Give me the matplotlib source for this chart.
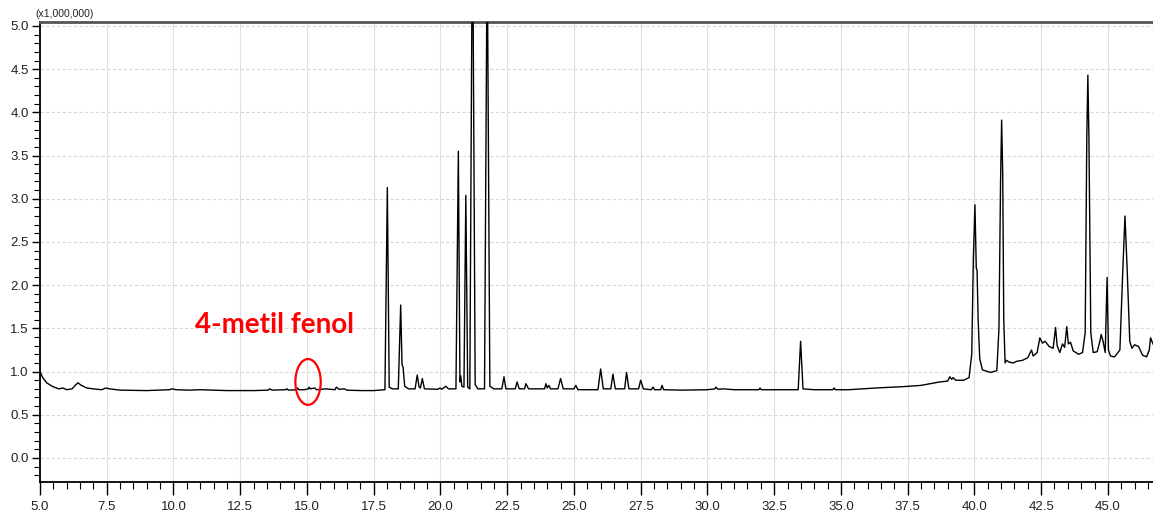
import matplotlib
matplotlib.use("Agg")
import matplotlib.pyplot as plt
from matplotlib.patches import Ellipse
from matplotlib.ticker import MultipleLocator, FormatStrFormatter

# retention time (min) and intensity (x1,000,000)
rt = [
    5.00, 5.10, 5.25, 5.45, 5.70, 5.86, 6.00, 6.20, 6.35, 6.42, 6.55, 6.75,
    7.00, 7.30, 7.47, 7.60, 8.00, 9.00, 9.85, 9.95, 10.10, 10.60, 11.00, 11.50,
    12.00, 12.50, 13.00, 13.55, 13.60, 13.70, 14.20, 14.25, 14.30, 14.60, 14.65,
    14.70, 14.90, 15.05, 15.08, 15.12, 15.30, 15.35, 15.70, 16.05, 16.10, 16.20,
    16.40, 16.50, 17.00, 17.50, 17.92, 18.01, 18.08, 18.20, 18.42, 18.51, 18.56,
    18.60, 18.66, 18.80, 19.05, 19.13, 19.20, 19.25, 19.32, 19.40, 19.90, 19.98,
    20.05, 20.20, 20.30, 20.58, 20.67, 20.73, 20.76, 20.80, 20.88, 20.95, 21.02,
    21.10, 21.20, 21.30, 21.40, 21.65, 21.75, 21.85, 22.00, 22.30, 22.38, 22.45,
    22.80, 22.87, 22.95, 23.15, 23.20, 23.30, 23.90, 23.95, 24.00, 24.06, 24.12,
    24.40, 24.50, 24.60, 25.00, 25.07, 25.15, 25.90, 26.00, 26.10, 26.38, 26.46,
    26.55, 26.90, 26.97, 27.06, 27.42, 27.50, 27.60, 27.90, 27.96, 28.02, 28.25,
    28.30, 28.36, 29.00, 30.00, 30.28, 30.32, 30.40, 30.60, 31.00, 31.93, 31.97,
    32.02, 33.00, 33.40, 33.49, 33.58, 34.00, 34.70, 34.74, 34.80, 35.30, 36.30,
    37.30, 38.00, 38.70, 39.00, 39.08, 39.15, 39.20, 39.30, 39.60, 39.80, 39.90,
    39.96, 40.02, 40.07, 40.10, 40.14, 40.20, 40.30, 40.60, 40.84, 40.92, 40.98,
    41.02, 41.06, 41.10, 41.15, 41.20, 41.30, 41.45, 41.60, 41.80, 42.00, 42.14,
    42.20, 42.35, 42.45, 42.55, 42.65, 42.80, 42.95, 43.04, 43.10, 43.20, 43.30,
    43.38, 43.46, 43.52, 43.60, 43.70, 43.90, 44.05, 44.15, 44.21, 44.25, 44.29,
    44.36, 44.45, 44.60, 44.70, 44.75, 44.82, 44.90, 44.97, 45.02, 45.10, 45.25,
    45.45, 45.55, 45.64, 45.72, 45.82, 45.90, 46.00, 46.15, 46.30, 46.45, 46.55,
    46.60, 46.65, 46.75,
]
intensity = [
    1.00, 0.93, 0.87, 0.83, 0.80, 0.81, 0.79, 0.80, 0.85, 0.87, 0.84, 0.81,
    0.80, 0.79, 0.81, 0.80, 0.785, 0.78, 0.79, 0.80, 0.79, 0.785, 0.79, 0.785,
    0.78, 0.78, 0.78, 0.785, 0.80, 0.785, 0.79, 0.80, 0.785, 0.79, 0.81,
    0.79, 0.79, 0.80, 0.82, 0.80, 0.81, 0.79, 0.80, 0.79, 0.82, 0.795,
    0.80, 0.785, 0.78, 0.78, 0.79, 3.13, 0.82, 0.80, 0.80, 1.77, 1.08,
    1.05, 0.83, 0.80, 0.80, 0.96, 0.82, 0.81, 0.92, 0.80, 0.795, 0.81,
    0.795, 0.83, 0.80, 0.80, 3.55, 0.88, 0.95, 0.83, 0.82, 3.04, 0.82,
    0.80, 6.50, 0.85, 0.80, 0.80, 6.00, 0.83, 0.80, 0.80, 0.94, 0.80,
    0.80, 0.88, 0.80, 0.80, 0.86, 0.80, 0.80, 0.86, 0.81, 0.84, 0.80,
    0.80, 0.92, 0.80, 0.80, 0.84, 0.79, 0.79, 1.03, 0.80, 0.80, 0.97,
    0.80, 0.80, 0.99, 0.80, 0.80, 0.90, 0.80, 0.79, 0.82, 0.79, 0.79,
    0.84, 0.79, 0.785, 0.79, 0.80, 0.82, 0.795, 0.80, 0.79, 0.79, 0.81,
    0.79, 0.79, 0.79, 1.35, 0.80, 0.79, 0.79, 0.81, 0.79, 0.79, 0.81,
    0.825, 0.84, 0.88, 0.89, 0.94, 0.91, 0.93, 0.90, 0.90, 0.93, 1.20,
    2.30, 2.93, 2.20, 2.17, 1.60, 1.15, 1.02, 0.99, 1.01, 1.50, 3.20,
    3.91, 3.30, 1.60, 1.10, 1.13, 1.11, 1.10, 1.12, 1.13, 1.16, 1.25,
    1.18, 1.22, 1.39, 1.33, 1.35, 1.29, 1.27, 1.51, 1.30, 1.22, 1.32,
    1.28, 1.52, 1.32, 1.34, 1.24, 1.20, 1.22, 1.45, 3.70, 4.43, 3.70,
    1.45, 1.22, 1.23, 1.35, 1.43, 1.35, 1.22, 2.09, 1.25, 1.18, 1.17,
    1.25, 2.10, 2.80, 2.20, 1.35, 1.27, 1.31, 1.29, 1.19, 1.17, 1.25,
    1.39, 1.35, 1.28,
]

label_text = "4-metil fenol"
label_rt = 15.04      # where the 4-methylphenol peak is circled
label_level = 0.88

fig = plt.figure(figsize=(11.53, 5.17), dpi=100)
ax = fig.add_axes([0.0347, 0.0677, 0.9653, 0.8888])

ax.plot(rt, intensity, color="black", linewidth=1.0, zorder=3)

ax.set_xlim(5.0, 46.69)
ax.set_ylim(-0.278, 5.04)

ax.xaxis.set_major_locator(MultipleLocator(2.5))
ax.xaxis.set_minor_locator(MultipleLocator(0.5))
ax.yaxis.set_major_locator(MultipleLocator(0.5))
ax.yaxis.set_minor_locator(MultipleLocator(0.1))
ax.xaxis.set_major_formatter(FormatStrFormatter("%.1f"))
ax.yaxis.set_major_formatter(FormatStrFormatter("%.1f"))

ax.tick_params(axis="x", which="major", length=9, width=1.0, pad=5,
               labelsize=9.5, labelcolor="#222222")
ax.tick_params(axis="x", which="minor", length=5, width=0.8)
ax.tick_params(axis="y", which="major", length=6, width=1.0, pad=2,
               labelsize=9.5, labelcolor="#222222")
ax.tick_params(axis="y", which="minor", length=4, width=0.8)
for lab in ax.get_xticklabels() + ax.get_yticklabels():
    lab.set_family("Liberation Sans")

# grid: solid vertical lines, dashed horizontal lines
ax.xaxis.grid(True, which="major", color="#e0e0e0", linewidth=0.8, linestyle="-")
ax.yaxis.grid(True, which="major", color="#d8d8d8", linewidth=0.8, linestyle=(0, (3, 2)))
ax.set_axisbelow(True)

ax.spines["right"].set_visible(False)
ax.spines["top"].set_color("#555555")
ax.spines["top"].set_linewidth(2.0)
ax.spines["left"].set_linewidth(1.3)
ax.spines["bottom"].set_linewidth(1.3)

fig.text(0.0305, 0.963, "(x1,000,000)", fontsize=7.5, family="Liberation Sans",
         color="#222222", ha="left", va="bottom")

ax.text(13.8, 1.54, label_text, color="red", fontsize=20, fontweight="bold",
        family="Lato", ha="center", va="center")
ax.add_patch(Ellipse((label_rt, label_level), width=0.95, height=0.53,
                     fill=False, edgecolor="red", linewidth=1.6, zorder=4))

fig.savefig("out.png", dpi=100)
